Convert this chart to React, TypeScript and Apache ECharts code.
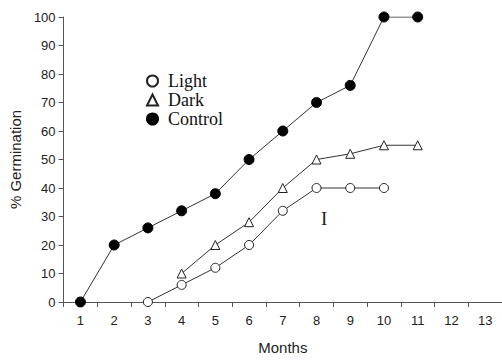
import React, { useEffect, useRef } from "react";
import * as echarts from "echarts";

const months = ["1", "2", "3", "4", "5", "6", "7", "8", "9", "10", "11", "12", "13"];
const lightValues: (number | null)[] = [null, null, 0, 6, 12, 20, 32, 40, 40, 40, null, null, null];
const darkValues: (number | null)[] = [null, null, null, 10, 20, 28, 40, 50, 52, 55, 55, null, null];
const controlValues: (number | null)[] = [0, 20, 26, 32, 38, 50, 60, 70, 76, 100, 100, null, null];

const SANS = "'Liberation Sans', Arial, sans-serif";
const SERIF = "'Liberation Serif', 'Times New Roman', serif";

export default function App() {
  const ref = useRef<HTMLDivElement>(null);

  useEffect(() => {
    if (!ref.current) return;
    const chart = echarts.init(ref.current, null, { renderer: "svg" });
    const lineStyle = { color: "#333", width: 1 };
    chart.setOption({
      animation: false,
      backgroundColor: "#fff",
      grid: { left: 60, right: 0, top: 17, bottom: 53 },
      legend: {
        orient: "vertical",
        left: 141,
        top: 67,
        itemWidth: 11,
        itemHeight: 11,
        itemGap: 1,
        textStyle: { fontFamily: SERIF, fontSize: 18, lineHeight: 18, color: "#111", padding: [0, 0, 0, 5] },
        data: [
          { name: "Light", icon: "circle" },
          { name: "Dark", icon: "triangle" },
          { name: "Control", icon: "circle" },
        ],
      },
      xAxis: {
        type: "category",
        data: months,
        boundaryGap: true,
        name: "Months",
        nameLocation: "middle",
        nameGap: 38,
        nameTextStyle: { fontFamily: SANS, fontSize: 15, color: "#222" },
        axisLine: { lineStyle: { color: "#555", width: 1 } },
        axisTick: { show: true, length: 5, lineStyle: { color: "#555" } },
        axisLabel: { fontFamily: SANS, fontSize: 13, color: "#222", margin: 12 },
      },
      yAxis: {
        type: "value",
        min: 0,
        max: 100,
        interval: 10,
        name: "% Germination",
        nameLocation: "middle",
        nameGap: 37,
        nameTextStyle: { fontFamily: SANS, fontSize: 15, color: "#222" },
        splitLine: { show: false },
        axisLine: { show: true, lineStyle: { color: "#555", width: 1 } },
        axisTick: { show: true, length: 5, lineStyle: { color: "#555" } },
        axisLabel: { fontFamily: SANS, fontSize: 13, color: "#222", margin: 8 },
      },
      graphic: [
        {
          type: "text",
          left: 321,
          top: 209,
          style: { text: "I", font: `19px ${SERIF}`, fill: "#222" },
        },
      ],
      series: [
        {
          name: "Light",
          type: "line",
          data: lightValues,
          symbol: "circle",
          symbolSize: 9,
          showAllSymbol: true,
          lineStyle,
          itemStyle: { color: "#fff", borderColor: "#222", borderWidth: 1 },
        },
        {
          name: "Dark",
          type: "line",
          data: darkValues,
          symbol: "triangle",
          symbolSize: 9,
          showAllSymbol: true,
          lineStyle,
          itemStyle: { color: "#fff", borderColor: "#222", borderWidth: 1 },
        },
        {
          name: "Control",
          type: "line",
          data: controlValues,
          symbol: "circle",
          symbolSize: 10,
          showAllSymbol: true,
          lineStyle,
          itemStyle: { color: "#000", borderColor: "#000", borderWidth: 1 },
        },
      ],
    });
    return () => chart.dispose();
  }, []);

  return (
    <div
      ref={ref}
      style={{ position: "absolute", left: 0, top: 0, width: 502, height: 360 }}
    />
  );
}
